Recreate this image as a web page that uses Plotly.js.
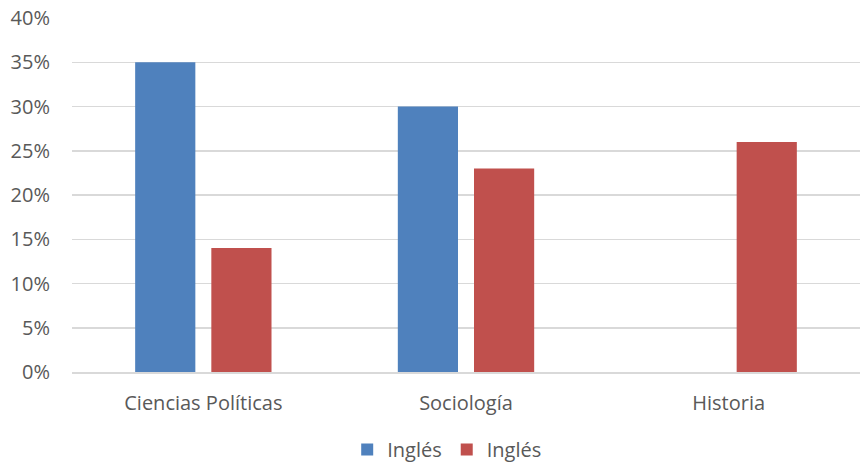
<!DOCTYPE html>
<html><head><meta charset="utf-8">
<script src="https://cdn.plot.ly/plotly-3.0.1.min.js"></script>
<style>html,body{margin:0;padding:0;background:#fff;overflow:hidden}</style>
</head><body><div id="chart" style="width:860px;height:469px"></div>
<script>
var categories = ["Ciencias Políticas", "Sociología", "Historia"];
var seriesNames = ["Inglés", "Inglés"];
var blueValues = [0.35, 0.30, null];
var redValues = [0.14, 0.23, 0.26];
var tickVals = [0, 0.05, 0.10, 0.15, 0.20, 0.25, 0.30, 0.35, 0.40];
var tickText = ["0%", "5%", "10%", "15%", "20%", "25%", "30%", "35%", "40%"];

var font = "'Open Sans', sans-serif";
var data = [
  {type: "bar", x: categories, y: blueValues, name: seriesNames[0], marker: {color: "#4F81BD"}, hoverinfo: "none"},
  {type: "bar", x: categories, y: redValues, name: seriesNames[1], marker: {color: "#C0504D"}, hoverinfo: "none"}
];
var layout = {
  width: 860, height: 469,
  margin: {l: 72, r: 0, t: 18, b: 97, autoexpand: false},
  paper_bgcolor: "#fff", plot_bgcolor: "#fff",
  barmode: "group", bargap: 0.42, bargroupgap: 0.21,
  font: {family: font, size: 20, color: "#595959"},
  xaxis: {showgrid: false, showline: true, linecolor: "#D9D9D9", linewidth: 1.5, ticks: "outside", ticklen: 12, tickcolor: "rgba(0,0,0,0)", tickfont: {size: 20, color: "#595959"}, zeroline: false, automargin: false},
  yaxis: {range: [0, 0.4], tickvals: tickVals, ticktext: tickText, showgrid: true, gridcolor: "#D9D9D9", gridwidth: 1.5, zeroline: false, showline: false, ticks: "outside", ticklen: 17, tickcolor: "rgba(0,0,0,0)", tickfont: {size: 20, color: "#595959"}, automargin: false},
  showlegend: true,
  legend: {orientation: "h", x: 0.52, xanchor: "center", xref: "container", y: 0, yanchor: "bottom", yref: "container", font: {size: 20, color: "#595959"}, itemwidth: 30, traceorder: "normal", tracegroupgap: 0}
};
Plotly.newPlot("chart", data, layout, {displayModeBar: false, staticPlot: true});
</script></body></html>
